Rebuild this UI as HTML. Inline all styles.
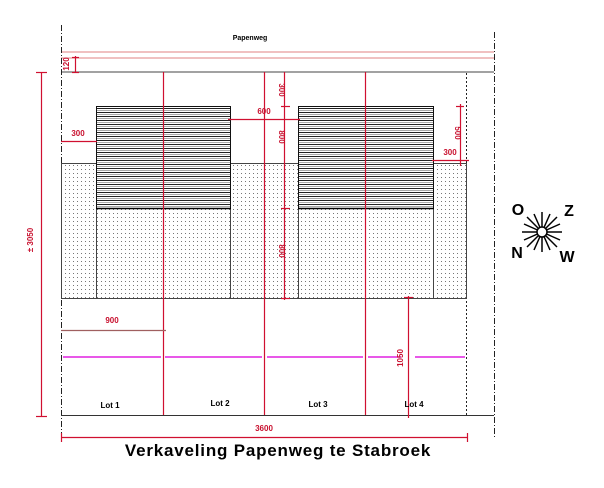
<!DOCTYPE html>
<html><head><meta charset="utf-8"><style>
html,body{margin:0;padding:0;background:#fff;width:604px;height:488px;overflow:hidden}
svg{display:block}
text{font-family:"Liberation Sans",Arial,sans-serif;font-weight:bold}
.r{fill:#c8102e;font-size:8px}
</style></head><body>
<svg width="604" height="488" viewBox="0 0 604 488" xmlns="http://www.w3.org/2000/svg">
<defs>
<pattern id="dots" width="4" height="4" patternUnits="userSpaceOnUse">
<rect x="1" y="1" width="1" height="1" fill="#777"/>
</pattern>
<pattern id="hatch" width="6" height="4" patternUnits="userSpaceOnUse">
<rect x="0" y="0" width="6" height="1" fill="#222"/>
<rect x="0" y="2" width="6" height="1" fill="#aaa"/>
</pattern>
</defs>
<text x="250" y="40" font-size="7" text-anchor="middle">Papenweg</text>
<line x1="61" y1="52" x2="494" y2="52" stroke="#e08080" stroke-width="1"/>
<line x1="61" y1="58" x2="494" y2="58" stroke="#e08080" stroke-width="1"/>
<line x1="61" y1="72" x2="494" y2="72" stroke="#444" stroke-width="1"/>
<line x1="61.5" y1="25" x2="61.5" y2="440" stroke="#222" stroke-dasharray="6,2,1,2"/>
<line x1="494.5" y1="32" x2="494.5" y2="438" stroke="#222" stroke-dasharray="6,2,1,2"/>
<line x1="466.5" y1="73" x2="466.5" y2="415" stroke="#222" stroke-dasharray="2,2"/>
<rect x="61.5" y="163.5" width="405" height="135" fill="url(#dots)" stroke="#444"/>
<rect x="96.5" y="106.5" width="134" height="102" fill="#fff"/>
<rect x="96.5" y="106.5" width="134" height="102" fill="url(#hatch)" stroke="#111"/>
<rect x="298.5" y="106.5" width="135" height="102" fill="#fff"/>
<rect x="298.5" y="106.5" width="135" height="102" fill="url(#hatch)" stroke="#111"/>
<line x1="96.5" y1="208" x2="96.5" y2="298" stroke="#444"/>
<line x1="230.5" y1="208" x2="230.5" y2="298" stroke="#444"/>
<line x1="298.5" y1="208" x2="298.5" y2="298" stroke="#444"/>
<line x1="433.5" y1="208" x2="433.5" y2="298" stroke="#444"/>
<line x1="96" y1="208.5" x2="231" y2="208.5" stroke="#000" stroke-width="1.5"/>
<line x1="298" y1="208.5" x2="434" y2="208.5" stroke="#000" stroke-width="1.5"/>
<line x1="61" y1="415.5" x2="494" y2="415.5" stroke="#333"/>
<g stroke="#d01030" stroke-width="1.2">
<line x1="163.5" y1="72" x2="163.5" y2="415"/>
<line x1="264.5" y1="72" x2="264.5" y2="415"/>
<line x1="365.5" y1="72" x2="365.5" y2="415"/>
<line x1="41.5" y1="72" x2="41.5" y2="417"/>
<line x1="36" y1="72.5" x2="47" y2="72.5"/><line x1="36" y1="416.5" x2="47" y2="416.5"/>
<line x1="75.5" y1="56" x2="75.5" y2="73"/>
<line x1="72" y1="57.5" x2="79" y2="57.5"/><line x1="72" y1="72.5" x2="79" y2="72.5"/>
<line x1="61" y1="141.5" x2="97" y2="141.5"/>
<line x1="228" y1="119.5" x2="300" y2="119.5"/>
<line x1="284.5" y1="72" x2="284.5" y2="300"/>
<line x1="281" y1="106.5" x2="290" y2="106.5"/><line x1="281" y1="208.5" x2="290" y2="208.5"/><line x1="281" y1="298.5" x2="290" y2="298.5"/>
<line x1="460.5" y1="104" x2="460.5" y2="166"/>
<line x1="456" y1="106.5" x2="464" y2="106.5"/>
<line x1="432" y1="160.5" x2="469" y2="160.5"/>
<line x1="61" y1="330.5" x2="166" y2="330.5" stroke="#a06060"/>
<line x1="408.5" y1="296" x2="408.5" y2="418"/>
<line x1="404" y1="297.5" x2="413" y2="297.5"/>
<line x1="61" y1="437.5" x2="468" y2="437.5"/>
<line x1="61.5" y1="433" x2="61.5" y2="442"/><line x1="467.5" y1="433" x2="467.5" y2="442"/>
</g>
<g stroke="#e020e0" stroke-width="1.5">
<line x1="63" y1="357" x2="161" y2="357"/>
<line x1="165" y1="357" x2="262" y2="357"/>
<line x1="267" y1="357" x2="363" y2="357"/>
<line x1="368" y1="357" x2="401" y2="357"/>
<line x1="415" y1="357" x2="465" y2="357"/>
</g>
<text class="r" x="78" y="136" text-anchor="middle">300</text>
<text class="r" x="264" y="114" text-anchor="middle">600</text>
<text class="r" x="450" y="155" text-anchor="middle">300</text>
<text class="r" x="112" y="323" text-anchor="middle">900</text>
<text class="r" x="264" y="431" text-anchor="middle">3600</text>
<text class="r" transform="translate(69,64) rotate(-90)" text-anchor="middle">120</text>
<text class="r" transform="translate(279,90) rotate(90)" text-anchor="middle">300</text>
<text class="r" transform="translate(279,137) rotate(90)" text-anchor="middle">800</text>
<text class="r" transform="translate(279,251) rotate(90)" text-anchor="middle">800</text>
<text class="r" transform="translate(455,133) rotate(90)" text-anchor="middle">500</text>
<text class="r" transform="translate(403,358) rotate(-90)" text-anchor="middle">1050</text>
<text class="r" transform="translate(33,240) rotate(-90)" text-anchor="middle">± 3050</text>
<text x="110" y="408" font-size="8" text-anchor="middle">Lot 1</text>
<text x="220" y="406" font-size="8" text-anchor="middle">Lot 2</text>
<text x="318" y="407" font-size="8" text-anchor="middle">Lot 3</text>
<text x="414" y="407" font-size="8" text-anchor="middle">Lot 4</text>
<text x="278" y="456" font-size="17" text-anchor="middle" letter-spacing="0.8">Verkaveling Papenweg te Stabroek</text>
<g transform="translate(542,232)" stroke="#000" stroke-width="1.5">
<line x1="-20" y1="0" x2="20" y2="0"/><line x1="0" y1="-20" x2="0" y2="20"/>
<line x1="-15" y1="-15" x2="15" y2="15"/><line x1="-15" y1="15" x2="15" y2="-15"/>
<line x1="-18" y1="-8" x2="18" y2="8"/><line x1="-18" y1="8" x2="18" y2="-8"/>
<line x1="-8" y1="-18" x2="8" y2="18"/><line x1="-8" y1="18" x2="8" y2="-18"/>
<circle r="5" fill="#fff" stroke-width="1.5"/>
</g>
<text x="518" y="215" font-size="16" text-anchor="middle">O</text>
<text x="569" y="216" font-size="16" text-anchor="middle">Z</text>
<text x="517" y="258" font-size="16" text-anchor="middle">N</text>
<text x="567" y="262" font-size="16" text-anchor="middle">W</text>
</svg>
</body></html>
